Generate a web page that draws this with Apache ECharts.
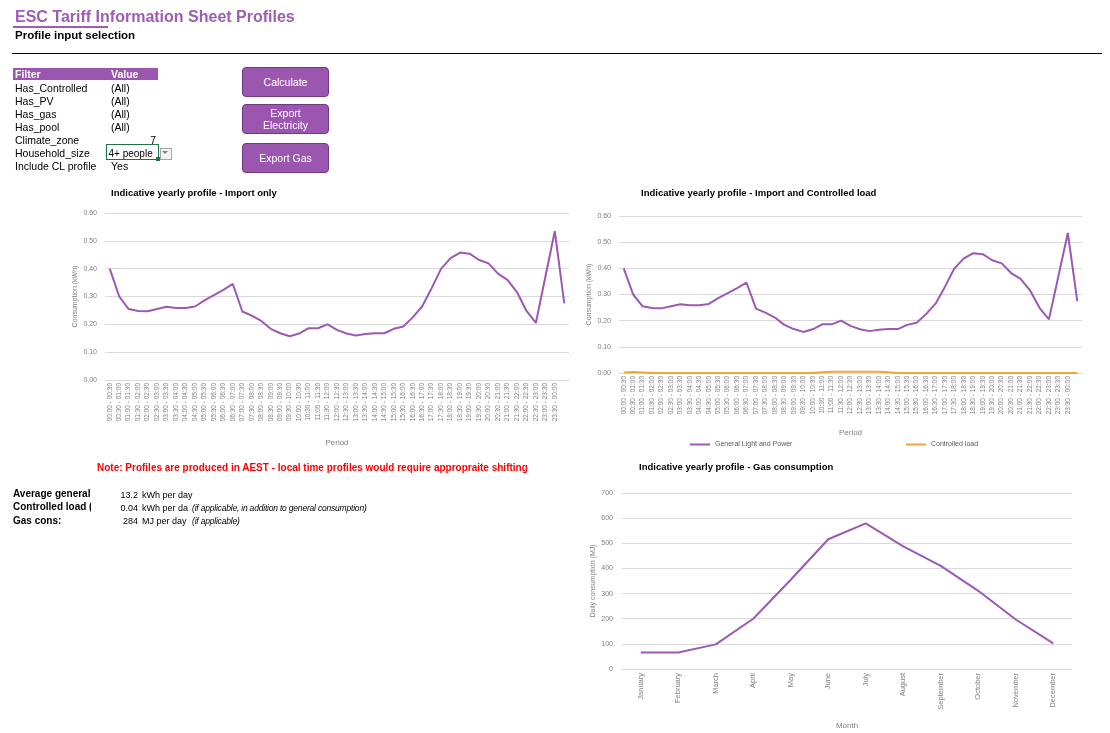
<!DOCTYPE html>
<html>
<head>
<meta charset="utf-8">
<script src="https://cdn.jsdelivr.net/npm/echarts@6/dist/echarts.min.js"></script>
<style>
  body { margin: 0; background: #fff; font-family: 'Liberation Sans', Arial, sans-serif; }
  #page { position: relative; width: 1110px; height: 733px; overflow: hidden; }
  #chart { position: absolute; left: 0; top: 0; width: 1110px; height: 733px; }
  .t { position: absolute; white-space: nowrap; }
  .row { position: absolute; font-size: 10.5px; line-height: 13px; color: #000; }
  .btn {
    position: absolute; left: 242px; width: 85px; height: 28px;
    background: #9b57b0; border: 1.5px solid #6e3a80; border-radius: 4px;
    color: #fff; font-size: 10.5px; line-height: 12px; text-align: center;
    display: flex; align-items: center; justify-content: center;
  }
</style>
</head>
<body>
<div id="page">
  <div id="chart"></div>

  <!-- sheet header -->
  <div class="t" style="left:15px;top:8px;font-size:16px;line-height:17px;font-weight:bold;color:#9e5cb4;">ESC Tariff Information Sheet Profiles</div>
  <div class="t" style="left:13px;top:25.5px;width:95px;height:2.5px;background:#9e5cb4;"></div>
  <div class="t" style="left:15px;top:28.5px;font-size:11.5px;line-height:12px;font-weight:bold;">Profile input selection</div>
  <div class="t" style="left:12px;top:53px;width:1090px;height:1px;background:#000;"></div>

  <!-- filter table -->
  <div class="t" style="left:13px;top:68px;width:145px;height:12px;background:#9b57b0;"></div>
  <div class="t" style="left:15px;top:68px;font-size:10.5px;line-height:12px;font-weight:bold;color:#fff;">Filter</div>
  <div class="t" style="left:111px;top:68px;font-size:10.5px;line-height:12px;font-weight:bold;color:#fff;">Value</div>
  <div id="filters"></div>
  <div class="t" style="left:106px;top:144px;width:51px;height:14px;border:1.5px solid #217346;"></div>
  <div class="t" style="left:156px;top:157px;width:4px;height:4px;background:#217346;"></div>
  <div class="t" style="left:159.5px;top:147.5px;width:10px;height:10px;border:1px solid #a6a6a6;background:#f2f2f2;"></div>
  <div class="t" style="left:162px;top:151px;width:0;height:0;border-left:3px solid transparent;border-right:3px solid transparent;border-top:3px solid #7f7f7f;"></div>

  <!-- buttons -->
  <div class="btn" style="top:67px;">Calculate</div>
  <div class="btn" style="top:104px;">Export<br>Electricity</div>
  <div class="btn" style="top:143px;">Export Gas</div>

  <!-- note and summary -->
  <div class="t" style="left:97px;top:462px;font-size:10px;line-height:12px;font-weight:bold;color:#ff0000;">Note: Profiles are produced in AEST - local time profiles would require appropraite shifting</div>
  <div id="stats"></div>
</div>

<script>
// half hour periods (the data has one extra trailing point with no label)
const periods = [
  '00:00 - 00:30', '00:30 - 01:00', '01:00 - 01:30', '01:30 - 02:00', '02:00 - 02:30', '02:30 - 03:00',
  '03:00 - 03:30', '03:30 - 04:00', '04:00 - 04:30', '04:30 - 05:00', '05:00 - 05:30', '05:30 - 06:00',
  '06:00 - 06:30', '06:30 - 07:00', '07:00 - 07:30', '07:30 - 08:00', '08:00 - 08:30', '08:30 - 09:00',
  '09:00 - 09:30', '09:30 - 10:00', '10:00 - 10:30', '10:30 - 11:00', '11:00 - 11:30', '11:30 - 12:00',
  '12:00 - 12:30', '12:30 - 13:00', '13:00 - 13:30', '13:30 - 14:00', '14:00 - 14:30', '14:30 - 15:00',
  '15:00 - 15:30', '15:30 - 16:00', '16:00 - 16:30', '16:30 - 17:00', '17:00 - 17:30', '17:30 - 18:00',
  '18:00 - 18:30', '18:30 - 19:00', '19:00 - 19:30', '19:30 - 20:00', '20:00 - 20:30', '20:30 - 21:00',
  '21:00 - 21:30', '21:30 - 22:00', '22:00 - 22:30', '22:30 - 23:00', '23:00 - 23:30', '23:30 - 00:00', ''
];

// general light and power, kWh per half hour
const generalLP = [
  0.40, 0.30, 0.255, 0.248, 0.247, 0.255, 0.263, 0.259, 0.259, 0.264,
  0.286, 0.305, 0.324, 0.345, 0.246, 0.231, 0.212, 0.184, 0.168, 0.157,
  0.167, 0.186, 0.186, 0.20, 0.18, 0.167, 0.16, 0.165, 0.168, 0.168,
  0.184, 0.192, 0.225, 0.265, 0.33, 0.40, 0.438, 0.458, 0.454, 0.431,
  0.419, 0.382, 0.36, 0.316, 0.249, 0.205, 0.37, 0.535, 0.275
];

// controlled load, almost nothing
const controlledLoad = [
  0.002, 0.004, 0.002, 0, 0, 0, 0, 0, 0, 0,
  0, 0, 0, 0, 0, 0, 0, 0, 0, 0,
  0, 0.003, 0.005, 0.005, 0.005, 0.005, 0.005, 0.005, 0.003, 0,
  0, 0, 0, 0, 0, 0, 0, 0, 0, 0,
  0, 0, 0, 0, 0, 0, 0, 0, 0
];

const months = ['January', 'February', 'March', 'April', 'May', 'June',
  'July', 'August', 'September', 'October', 'November', 'December'];
// daily gas consumption, MJ
const gasDaily = [66, 66, 98, 200, 355, 516, 579, 488, 410, 311, 197, 102];

const filterNames = ['Has_Controlled', 'Has_PV', 'Has_gas', 'Has_pool', 'Climate_zone', 'Household_size', 'Include CL profile'];
const filterValues = ['(All)', '(All)', '(All)', '(All)', '7', '4+ people', 'Yes'];

const statLabels = ['Average general', 'Controlled load (', 'Gas cons:'];
const statValues = ['13.2', '0.04', '284'];
const statUnits = ['kWh per day', 'kWh per da', 'MJ per day'];
const statNotes = ['', '(if applicable, in addition to general consumption)', '(if applicable)'];

// ---- sheet cells
const rowTops = [82, 94.5, 107.5, 121, 133.5, 147, 159.5];
let html = '';
filterNames.forEach(function (n, i) {
    html += '<div class="row" style="left:15px;top:' + rowTops[i] + 'px;">' + n + '</div>';
    if (n === 'Climate_zone') {
        html += '<div class="row" style="left:110px;width:46px;text-align:right;top:' + rowTops[i] + 'px;">' + filterValues[i] + '</div>';
    } else if (n === 'Household_size') {
        html += '<div class="row" style="left:108.5px;top:' + rowTops[i] + 'px;font-size:10px;">' + filterValues[i] + '</div>';
    } else {
        html += '<div class="row" style="left:111px;top:' + rowTops[i] + 'px;">' + filterValues[i] + '</div>';
    }
});
document.getElementById('filters').innerHTML = html;

html = '';
statLabels.forEach(function (s, i) {
    const top = 488 + i * 13.3;
    html += '<div class="t" style="left:13px;top:' + top + 'px;width:78px;overflow:hidden;font-size:10px;line-height:12px;font-weight:bold;">' + s + '</div>';
    html += '<div class="t" style="left:100px;top:' + (top + 0.5) + 'px;width:38px;text-align:right;font-size:9px;line-height:12px;">' + statValues[i] + '</div>';
    html += '<div class="t" style="left:142px;top:' + (top + 0.5) + 'px;font-size:9px;line-height:12px;">' + statUnits[i] + '</div>';
    if (statNotes[i]) {
        html += '<div class="t" style="left:192px;top:' + (top + 0.5) + 'px;font-size:8.5px;line-height:12px;font-style:italic;letter-spacing:-0.2px;">' + statNotes[i] + '</div>';
    }
});
document.getElementById('stats').innerHTML = html;

// ---- charts
const chart = echarts.init(document.getElementById('chart'));
const purple = '#9c59b3';
const orange = '#f8a23a';
const grey = '#808080';
const gridLine = '#d9d9d9';
const font = 'Liberation Sans, Arial, sans-serif';

function periodAxis(gridIndex, gap) {
    return {
        type: 'category', gridIndex: gridIndex, data: periods, boundaryGap: true,
        name: 'Period', nameLocation: 'middle', nameGap: gap,
        nameTextStyle: { fontSize: 8, color: grey, fontFamily: font },
        axisTick: { show: false },
        axisLine: { lineStyle: { color: gridLine } },
        axisLabel: { interval: 0, rotate: 90, fontSize: 6.5, color: grey, margin: 3, fontFamily: font }
    };
}

function kwhAxis(gridIndex) {
    return {
        type: 'value', gridIndex: gridIndex, min: 0, max: 0.6, interval: 0.1,
        name: 'Consumption (kWh)', nameLocation: 'middle', nameGap: 26,
        nameTextStyle: { fontSize: 7, color: grey, fontFamily: font },
        axisLabel: { fontSize: 7, color: grey, margin: 8, fontFamily: font,
            formatter: function (v) { return v.toFixed(2); } },
        splitLine: { lineStyle: { color: gridLine } }
    };
}

const titleStyle = { fontSize: 9.5, fontWeight: 'bold', color: '#000', fontFamily: font };

const option = {
    animation: false,
    title: [
        { text: 'Indicative yearly profile - Import only', left: 111, top: 188, padding: 0, textStyle: titleStyle },
        { text: 'Indicative yearly profile - Import and Controlled load', left: 641, top: 188, padding: 0, textStyle: titleStyle },
        { text: 'Indicative yearly profile - Gas consumption', left: 639, top: 462, padding: 0, textStyle: titleStyle }
    ],
    legend: [
        { data: ['General Light and Power'], left: 690, top: 441, icon: 'rect', itemWidth: 20, itemHeight: 2,
          padding: 0, textStyle: { fontSize: 7, color: '#595959', fontFamily: font } },
        { data: ['Controlled load'], left: 906, top: 441, icon: 'rect', itemWidth: 20, itemHeight: 2,
          padding: 0, textStyle: { fontSize: 7, color: '#595959', fontFamily: font } }
    ],
    grid: [
        { left: 105, top: 213, width: 464, height: 167 },
        { left: 619, top: 216, width: 463, height: 157 },
        { left: 622, top: 493, width: 450, height: 176 }
    ],
    xAxis: [
        periodAxis(0, 59),
        periodAxis(1, 56),
        {
            type: 'category', gridIndex: 2, data: months, boundaryGap: true,
            name: 'Month', nameLocation: 'middle', nameGap: 53,
            nameTextStyle: { fontSize: 8, color: grey, fontFamily: font },
            axisTick: { show: false },
            axisLine: { lineStyle: { color: gridLine } },
            axisLabel: { interval: 0, rotate: 90, fontSize: 7.5, color: grey, margin: 4, fontFamily: font }
        }
    ],
    yAxis: [
        kwhAxis(0),
        kwhAxis(1),
        {
            type: 'value', gridIndex: 2, min: 0, max: 700, interval: 100,
            name: 'Daily consumption (MJ)', nameLocation: 'middle', nameGap: 25,
            nameTextStyle: { fontSize: 7, color: grey, fontFamily: font },
            axisLabel: { fontSize: 7, color: grey, margin: 9, fontFamily: font },
            splitLine: { lineStyle: { color: gridLine } }
        }
    ],
    series: [
        { name: 'Import only', type: 'line', xAxisIndex: 0, yAxisIndex: 0, data: generalLP,
          showSymbol: false, lineStyle: { color: purple, width: 2 }, itemStyle: { color: purple } },
        { name: 'General Light and Power', type: 'line', xAxisIndex: 1, yAxisIndex: 1, data: generalLP,
          showSymbol: false, lineStyle: { color: purple, width: 2 }, itemStyle: { color: purple } },
        { name: 'Controlled load', type: 'line', xAxisIndex: 1, yAxisIndex: 1, data: controlledLoad,
          showSymbol: false, lineStyle: { color: orange, width: 2 }, itemStyle: { color: orange } },
        { name: 'Gas', type: 'line', xAxisIndex: 2, yAxisIndex: 2, data: gasDaily,
          showSymbol: false, lineStyle: { color: purple, width: 2 }, itemStyle: { color: purple } }
    ]
};

chart.setOption(option);
</script>
</body>
</html>
